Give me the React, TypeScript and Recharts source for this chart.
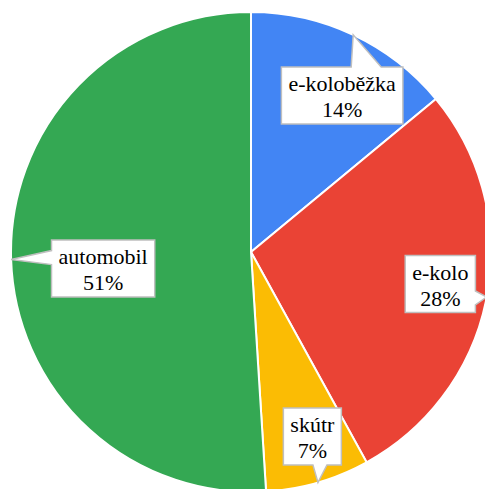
import { PieChart, Pie, Cell } from "recharts";

const categories = ["e-koloběžka", "e-kolo", "skútr", "automobil"];
const shares = [14, 28, 7, 51];
const colors = ["#4285F4", "#EA4335", "#FBBC04", "#34A853"];

// callout placement: fraction of radius for box centre, and angle nudge (deg)
const labelRadius = [0.755, 0.8, 0.81, 0.62];
const labelAngleShift = [-5, 1.2, 2.2, 4.6];

const data = categories.map((name, i) => ({ name, value: shares[i] }));

const FAMILY = "Liberation Serif";
const SIZE = 22;
const RAD = Math.PI / 180;

let ctx: CanvasRenderingContext2D | null = null;
const measure = (s: string) => {
  if (!ctx) ctx = document.createElement("canvas").getContext("2d");
  if (!ctx) return s.length * 10;
  ctx.font = `${SIZE}px "${FAMILY}"`;
  return ctx.measureText(s).width;
};

const Callout = (props: any) => {
  const { cx, cy, midAngle, outerRadius, index, name, value } = props;
  const a = midAngle + labelAngleShift[index];
  const r = outerRadius * labelRadius[index];
  const bx = cx + r * Math.cos(a * RAD);
  const by = cy - r * Math.sin(a * RAD);
  const tipX = cx + outerRadius * Math.cos(midAngle * RAD);
  const tipY = cy - outerRadius * Math.sin(midAngle * RAD);

  const line2 = `${value}%`;
  const w = Math.max(measure(name), measure(line2)) + 14;
  const h = 57;
  const x0 = bx - w / 2;
  const x1 = bx + w / 2;
  const y0 = by - h / 2;
  const y1 = by + h / 2;

  const dx = tipX - bx;
  const dy = tipY - by;
  const clamp = (v: number, lo: number, hi: number) => Math.max(lo, Math.min(hi, v));
  let d = "";
  if (Math.abs(dx) / (w / 2) > Math.abs(dy) / (h / 2)) {
    const c = clamp(tipY, y0 + 12, y1 - 12);
    if (dx > 0) {
      d = `M${x0},${y0} L${x1},${y0} L${x1},${c - 6} L${tipX},${tipY} L${x1},${c + 8} L${x1},${y1} L${x0},${y1} Z`;
    } else {
      d = `M${x0},${y0} L${x1},${y0} L${x1},${y1} L${x0},${y1} L${x0},${c + 5} L${tipX},${tipY} L${x0},${c - 9} Z`;
    }
  } else {
    if (dy < 0) {
      const s = clamp(tipX - 2, x0 + 4, x1 - 34);
      d = `M${x0},${y0} L${s},${y0} L${tipX},${tipY} L${s + 30},${y0} L${x1},${y0} L${x1},${y1} L${x0},${y1} Z`;
    } else {
      const s = clamp(tipX - 5, x0 + 4, x1 - 18);
      d = `M${x0},${y0} L${x1},${y0} L${x1},${y1} L${s + 14},${y1} L${tipX},${tipY} L${s},${y1} L${x0},${y1} Z`;
    }
  }

  const textStyle = { fontFamily: FAMILY, fontSize: SIZE };
  return (
    <g>
      <path d={d} fill="#ffffff" stroke="#bfbfbf" strokeWidth={1.5} />
      <text x={bx} y={by - 12} textAnchor="middle" dominantBaseline="central" fill="#000000" style={textStyle}>
        {name}
      </text>
      <text x={bx} y={by + 14} textAnchor="middle" dominantBaseline="central" fill="#000000" style={textStyle}>
        {line2}
      </text>
    </g>
  );
};

const App = () => {
  return (
    <div style={{ position: "absolute", left: 0, top: 0, width: 485, height: 489, background: "#fff" }}>
      <PieChart width={485} height={489} margin={{ top: 0, right: 0, bottom: 0, left: 0 }}>
        <Pie
          data={data}
          dataKey="value"
          nameKey="name"
          cx={251}
          cy={252}
          outerRadius={240}
          startAngle={90}
          endAngle={-270}
          stroke="#ffffff"
          strokeWidth={2}
          labelLine={false}
          label={Callout}
          isAnimationActive={false}
        >
          {data.map((d, i) => (
            <Cell key={d.name} fill={colors[i]} />
          ))}
        </Pie>
      </PieChart>
    </div>
  );
};

export default App;
